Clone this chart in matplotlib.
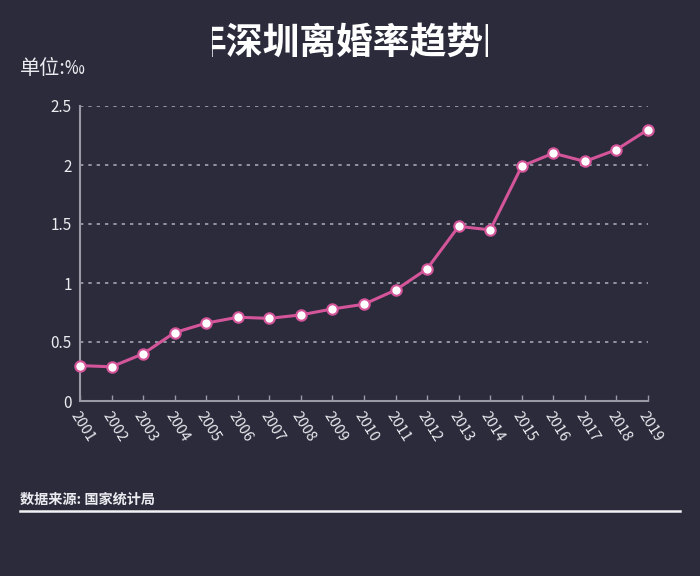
import matplotlib
matplotlib.use("Agg")
import matplotlib.pyplot as plt
from matplotlib.patches import Rectangle
from matplotlib.lines import Line2D

plt.rcParams['font.family'] = ['Noto Sans CJK SC', 'DejaVu Sans']

years = [str(y) for y in range(2001, 2020)]
rates = [0.30, 0.29, 0.40, 0.58, 0.66, 0.71, 0.70, 0.73, 0.78, 0.82,
         0.94, 1.12, 1.48, 1.45, 1.99, 2.10, 2.03, 2.13, 2.30]
yticks = [0, 0.5, 1, 1.5, 2, 2.5]
ytick_labels = ['0', '0.5', '1', '1.5', '2', '2.5']

bg = '#2c2b3c'
pink = '#d4559a'
axis_col = '#9a99a6'
text_col = '#ececf0'

W, H = 700, 576
fig = plt.figure(figsize=(7, 5.76), dpi=100, facecolor=bg)
ax = fig.add_axes([80 / W, 1 - 401 / H, (648 - 80) / W, (401 - 106) / H])
ax.set_facecolor(bg)

x = list(range(len(years)))
ax.plot(x, rates, color=pink, lw=2.2, marker='o', ms=7.5,
        markerfacecolor='white', markeredgecolor=pink, markeredgewidth=1.5,
        zorder=3, clip_on=False)

ax.set_xlim(0, len(years) - 1)
ax.set_ylim(0, 2.5)
ax.set_yticks(yticks)
ax.set_yticklabels(ytick_labels)
ax.set_xticks(x)
ax.set_xticklabels(years, rotation=-58, ha='left', va='top', rotation_mode='anchor')

for t in yticks[1:]:
    ax.axhline(t, color='#a6a5b0', lw=1.2, ls=(0, (2, 3)), zorder=1)

for s in ['top', 'right']:
    ax.spines[s].set_visible(False)
for s in ['left', 'bottom']:
    ax.spines[s].set_color(axis_col)
    ax.spines[s].set_linewidth(1.5)

ax.tick_params(axis='x', colors=axis_col, length=4, width=1, direction='in',
               labelcolor=text_col, labelsize=10.5, pad=6)
ax.tick_params(axis='y', length=0, labelcolor=text_col, labelsize=11, pad=6)

# Title (cropped at both sides as in the reference)
title = fig.text(355 / W, 1 - 43 / H, '年深圳离婚率趋势图', color='white',
                 fontsize=26.5, fontweight='bold', ha='center', va='center')
clip = Rectangle((212, 0), 276, H, transform=None)
title.set_clip_path(clip)

fig.text(20 / W, 1 - 69 / H, '单位:‰', color=text_col, fontsize=14.5,
         ha='left', va='center')

fig.text(20 / W, 1 - 500 / H, '数据来源: 国家统计局', color=text_col, fontsize=10.2,
         fontweight='bold', ha='left', va='center')
fig.add_artist(Line2D([20 / W, 680 / W], [1 - 511 / H, 1 - 511 / H],
                      color='#f2f2f5', lw=1.8, transform=fig.transFigure))

fig.savefig('out.png', dpi=100, facecolor=bg)
